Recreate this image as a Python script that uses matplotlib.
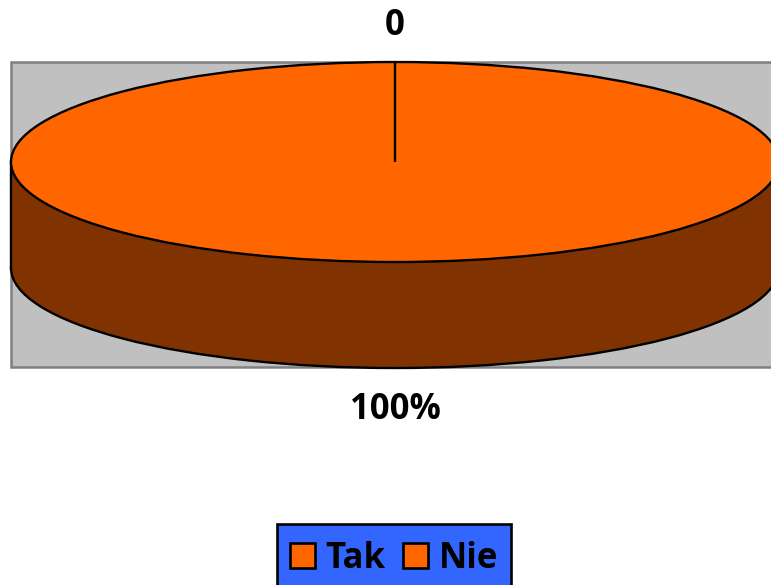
import matplotlib
matplotlib.use("Agg")
import matplotlib.pyplot as plt
from matplotlib.patches import Patch, Rectangle

categories = ["Tak", "Nie"]
values = [0, 100]
labels = ["0", "100%"]
TOP = "#FF6600"
SIDE = "#803300"
W, H = 771, 585
CX, CY, RX, RY, DEPTH = 395.0, 162.0, 384.0, 100.0, 106.0
LW = 1.7

plt.rcParams['font.family'] = ['Open Sans', 'DejaVu Sans']
fig = plt.figure(figsize=(W / 100, H / 100), dpi=100)
ax = fig.add_axes([0, 0, 1, 1])


def ux(px):
    return (px - CX) / RX


def uy(py):
    return (CY - py) / RY


# plot area
ax.add_patch(Rectangle((ux(11), uy(367)), ux(800) - ux(11), uy(62) - uy(367),
                       facecolor="#C0C0C0", edgecolor="#808080", linewidth=1.8, zorder=0))
d = DEPTH / RY
# lower face
w, _ = ax.pie(values, startangle=90, counterclock=False, center=(0, -d), radius=1,
              colors=[SIDE, SIDE], wedgeprops=dict(edgecolor="black", linewidth=LW), frame=True)
for p in w:
    p.set_zorder(1)
ax.add_patch(Rectangle((-1, -d), 2, d, facecolor=SIDE, edgecolor="none", zorder=2))
ax.plot([-1, -1], [0, -d], color="black", lw=LW, zorder=3)
ax.plot([1, 1], [0, -d], color="black", lw=LW, zorder=3)
# upper face
w, _ = ax.pie(values, startangle=90, counterclock=False, center=(0, 0), radius=1,
              colors=[TOP, TOP], wedgeprops=dict(edgecolor="black", linewidth=LW), frame=True)
for p in w:
    p.set_zorder(4)
# radial edge where the slices meet (12 o'clock)
ax.plot([0, 0], [0, 1], color="black", lw=LW, zorder=5, solid_capstyle="butt")

ax.set_aspect("auto")
ax.set_xlim(ux(0), ux(W))
ax.set_ylim(uy(H), uy(0))
ax.set_xticks([])
ax.set_yticks([])
ax.axis("off")

ax.text(ux(395), uy(26), labels[0], ha="center", va="center", fontsize=25, fontweight="bold", color="black")
ax.text(ux(395), uy(410), labels[1], ha="center", va="center", fontsize=25, fontweight="bold", color="black")

# legend box, running past the bottom edge of the image
ax.add_patch(Rectangle((ux(277.5), uy(600)), ux(511.5) - ux(277.5), uy(523.5) - uy(600),
                       facecolor="#3366FF", edgecolor="black", linewidth=LW + 0.2, zorder=6))
handles = [Patch(facecolor=TOP, edgecolor="black", linewidth=LW + 0.2) for _ in categories]
leg = ax.legend(handles, categories, loc="center", bbox_to_anchor=(394.0 / W, 1 - 558.5 / H),
                bbox_transform=fig.transFigure, ncol=2,
                prop=dict(family='Open Sans', weight='bold', size=25),
                frameon=False,
                handlelength=0.72, handleheight=0.72, handletextpad=0.3, columnspacing=0.5,
                borderpad=0, borderaxespad=0)
leg.set_zorder(7)

fig.savefig("out.png", dpi=100)
